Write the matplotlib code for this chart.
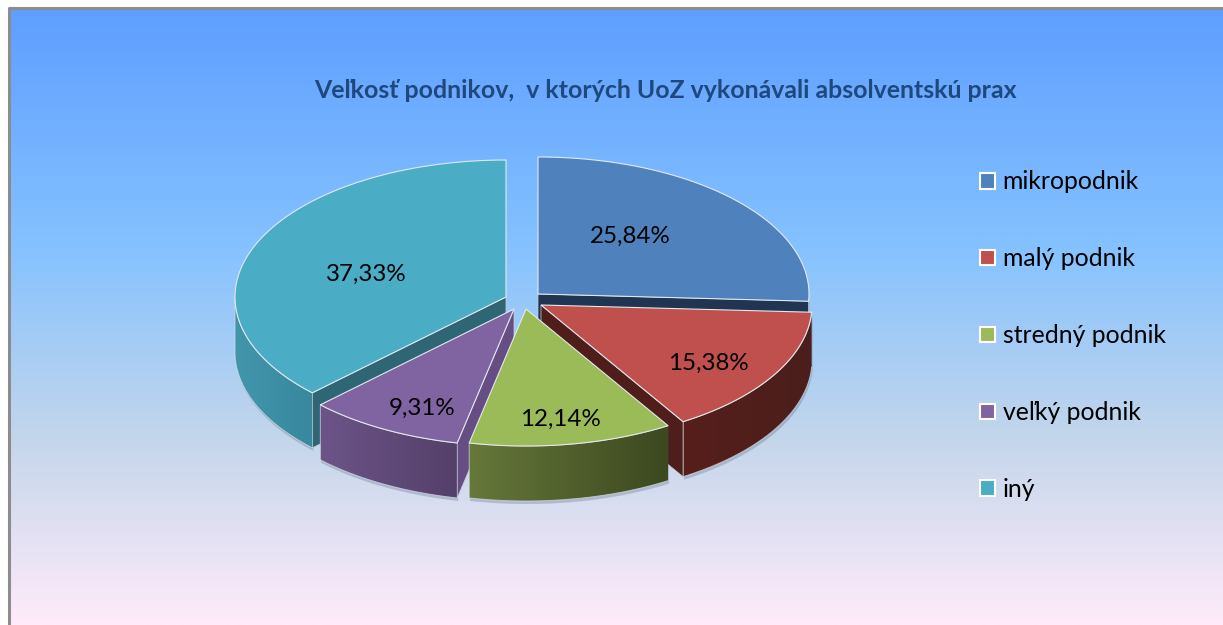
import numpy as np
import matplotlib
matplotlib.use('Agg')
import matplotlib.pyplot as plt
from matplotlib.colors import LinearSegmentedColormap
from matplotlib.patches import Patch, Polygon

categories = ['mikropodnik', 'malý podnik', 'stredný podnik', 'veľký podnik', 'iný']
values = [25.84, 15.38, 12.14, 9.31, 37.33]
value_labels = ['25,84%', '15,38%', '12,14%', '9,31%', '37,33%']
title = 'Veľkosť podnikov,  v ktorých UoZ vykonávali absolventskú prax'

# look of each slice, same order as categories
top_colors = ['#4F81BD', '#C0504D', '#9BBB59', '#8064A2', '#4BACC6']
cut_colors = ['#1F3552', '#4F1E1B', '#41501F', '#664E85', '#2E6676']
wall_left = ['#4F81BD', '#561F1C', '#66783A', '#6C5488', '#4296AC']
wall_right = ['#2A4568', '#4B1E1B', '#3C4820', '#54406A', '#38889E']
apex = [(538, 294), (541, 305), (526, 309), (514, 309), (506, 297)]
label_pos = [(630, 236), (708, 363), (560, 419), (422, 408), (366, 274)]
draw_order = [0, 4, 1, 3, 2]

rx, ry, depth = 271, 137, 55

plt.rcParams['font.family'] = ['Lato', 'DejaVu Sans']

fig = plt.figure(figsize=(12.23, 6.25), dpi=100)
ax = fig.add_axes([0, 0, 1, 1])
ax.set_xlim(0, 1223)
ax.set_ylim(625, 0)
ax.axis('off')

# frame + background
daybreak = LinearSegmentedColormap.from_list('daybreak', [(0, '#5E9EFF'), (0.39, '#85C2FF'), (0.70, '#C4D6EB'), (1, '#FFEBFA')])
grad = np.linspace(0, 1, 256).reshape(-1, 1)
ax.imshow(grad, cmap=daybreak, extent=(9, 1223, 625, 8), aspect='auto', zorder=0)
ax.plot([9, 9, 1223], [625, 8, 8], color='#8C8C8C', lw=2.2, zorder=1)
ax.set_xlim(0, 1223)
ax.set_ylim(625, 0)


def rim(c, t):
    return c[0] + rx * np.sin(t), c[1] - ry * np.cos(t)


def gradient_poly(pts, c1, c2, z):
    # horizontal colour run clipped to the polygon
    pts = np.array(pts)
    cm = LinearSegmentedColormap.from_list('w', [c1, c2])
    poly = Polygon(pts, closed=True, fc='none', ec='none', transform=ax.transData)
    ax.add_patch(poly)
    im = ax.imshow(np.linspace(0, 1, 128).reshape(1, -1), cmap=cm, aspect='auto', zorder=z,
                   extent=(pts[:, 0].min(), pts[:, 0].max(), pts[:, 1].max(), pts[:, 1].min()))
    im.set_clip_path(poly)
    ax.plot(pts[:, 0], pts[:, 1], color='#D8DCE4', lw=0.7, alpha=0.7, zorder=z + 0.01)


angles = np.cumsum([0] + values) / sum(values) * 2 * np.pi
z = 2
for i in draw_order:
    t0, t1 = angles[i], angles[i + 1]
    c = apex[i]
    t = np.linspace(t0, t1, 120)
    x, y = rim(c, t)

    # outer wall, only the part turned to the viewer
    front = np.cos(t) <= 0
    if front.any():
        wx, wy = x[front], y[front]
        wall = list(zip(wx, wy)) + list(zip(wx[::-1], wy[::-1] + depth))
        shadow = Polygon(np.array(wall) + [1, 3], closed=True, fc='#40506A', ec='none', alpha=0.25, zorder=z)
        ax.add_patch(shadow)
        gradient_poly(wall, wall_left[i], wall_right[i], z + 0.1)

    # cut faces
    for edge in (t0, t1):
        ex, ey = rim(c, edge)
        quad = [c, (ex, ey), (ex, ey + depth), (c[0], c[1] + depth)]
        if (i == 0 and edge == t1) or (i == 1 and edge == t1) or (i == 3 and edge == t0) or (i == 4 and edge == t0):
            ax.add_patch(Polygon(quad, closed=True, fc=cut_colors[i], ec='#C8D0DA', lw=0.5, zorder=z + 0.2))

    # top
    ax.add_patch(Polygon(list(zip(x, y)) + [c], closed=True, fc=top_colors[i], ec='#E4E8EE', lw=0.8, zorder=z + 0.3))
    ax.text(label_pos[i][0], label_pos[i][1], value_labels[i], ha='center', va='center', fontsize=17.4,
            color='black', zorder=20)
    z += 1

ax.text(665, 91, title, ha='center', va='center', fontsize=17.9, fontweight='bold', color='#1F497D', zorder=20)

handles = [Patch(fc=col, ec='white', lw=1.5) for col in top_colors]
ax.legend(handles, categories, loc='upper left', bbox_to_anchor=(973 / 1223, 1 - 163 / 625),
          frameon=False, fontsize=17.8, labelspacing=2.18, handlelength=0.6, handleheight=0.6,
          handletextpad=0.3, borderpad=0.3, borderaxespad=0).set_zorder(20)

fig.savefig('out.png', dpi=100)
